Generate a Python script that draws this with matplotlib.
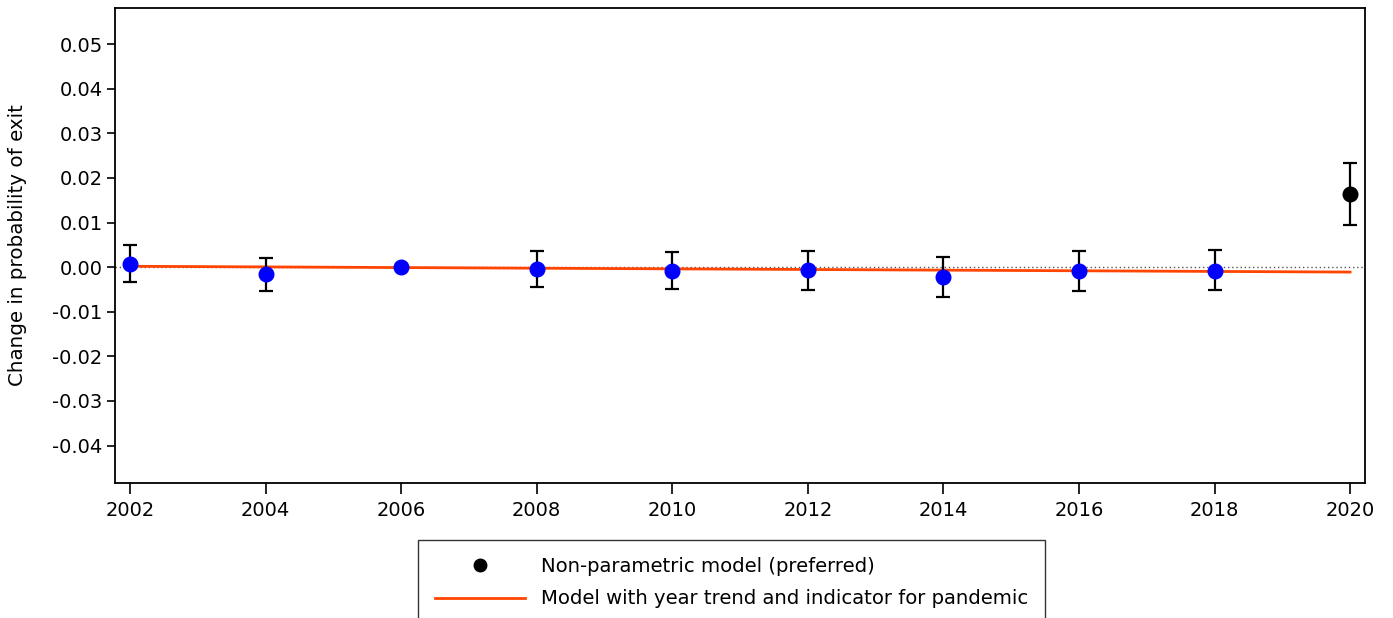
import matplotlib.pyplot as plt
from matplotlib.lines import Line2D

years = [2002, 2004, 2006, 2008, 2010, 2012, 2014, 2016, 2018, 2020]
coef = [0.0007, -0.0016, 0.0000, -0.0004, -0.0009, -0.0007, -0.0022, -0.0009, -0.0009, 0.0164]
ci_hi = [0.0049, 0.0020, 0.0000, 0.0036, 0.0034, 0.0036, 0.0022, 0.0036, 0.0038, 0.0233]
ci_lo = [-0.0034, -0.0054, 0.0000, -0.0045, -0.0049, -0.0052, -0.0067, -0.0054, -0.0052, 0.0094]
trend_years = [2002, 2020]
trend_vals = [0.0002, -0.0011]

yticks = [-0.04, -0.03, -0.02, -0.01, 0.00, 0.01, 0.02, 0.03, 0.04, 0.05]

fig = plt.figure(figsize=(13.93, 6.18), dpi=100)
ax = fig.add_axes([0.0826, 0.2184, 0.8973, 0.7686])

ax.axhline(0, color='#555555', linestyle=(0, (1, 2)), linewidth=1, zorder=1)
ax.plot(trend_years, trend_vals, color='#ff4500', linewidth=2, zorder=2)

for i, yr in enumerate(years):
    c = 'black' if yr == 2020 else 'blue'
    if ci_hi[i] != ci_lo[i]:
        ax.errorbar(yr, coef[i], yerr=[[coef[i] - ci_lo[i]], [ci_hi[i] - coef[i]]],
                    fmt='none', ecolor='black', elinewidth=1.6, capsize=5, capthick=1.6, zorder=3)
    ax.plot(yr, coef[i], 'o', color=c, markersize=10.5, zorder=4)

ax.set_xlim(2001.78, 2020.22)
ax.set_ylim(-0.0484, 0.0581)
ax.set_xticks(years)
ax.set_yticks(yticks)
ax.set_yticklabels(['%.2f' % v for v in yticks], fontsize=14, family='DejaVu Sans')
ax.set_xticklabels([str(y) for y in years], fontsize=14, family='DejaVu Sans')
ax.tick_params(axis='y', length=6, width=1.2, pad=3)
ax.tick_params(axis='x', length=8, width=1.2, pad=5)
for s in ax.spines.values():
    s.set_linewidth(1.3)
ax.set_ylabel('Change in probability of exit', fontsize=14.3)
ax.yaxis.set_label_coords(-0.0705, 0.5)

handles = [Line2D([], [], marker='o', color='black', linestyle='none', markersize=9),
           Line2D([], [], color='#ff4500', linewidth=2)]
labels = ['Non-parametric model (preferred)', 'Model with year trend and indicator for pandemic']
leg = fig.legend(handles, labels, loc='upper left', bbox_to_anchor=(418 / 1393, 1 - 540 / 618),
                 borderaxespad=0, fontsize=14.1, frameon=True, fancybox=False, edgecolor='black',
                 handlelength=4.6, handletextpad=0.85, borderpad=0.85, labelspacing=0.7)
leg.get_frame().set_linewidth(1)

fig.savefig('out.png', dpi=100)
